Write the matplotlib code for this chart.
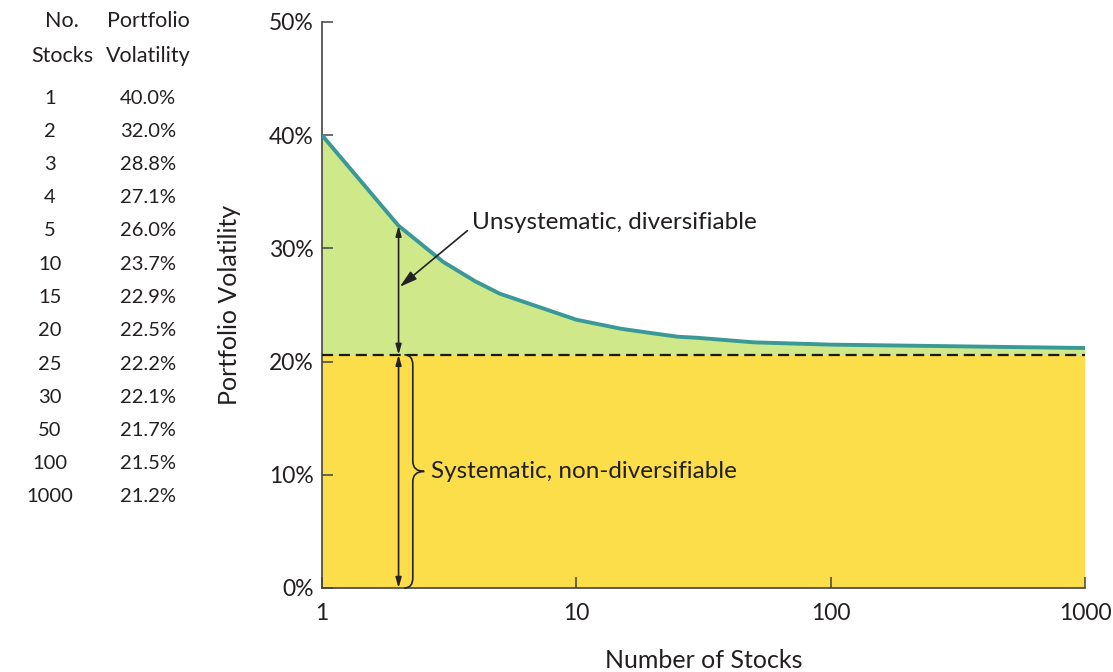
import matplotlib.pyplot as plt
import matplotlib.transforms as mtransforms
from matplotlib.path import Path
from matplotlib.patches import PathPatch
import numpy as np

plt.rcParams['font.family'] = ['Lato', 'DejaVu Sans']
TXT = '#231f20'

# table / curve data
n_stocks = [1, 2, 3, 4, 5, 10, 15, 20, 25, 30, 50, 100, 1000]
volatility = [40.0, 32.0, 28.8, 27.1, 26.0, 23.7, 22.9, 22.5, 22.2, 22.1, 21.7, 21.5, 21.2]
systematic = 20.6  # dashed level
y_ticks = [0, 10, 20, 30, 40, 50]
x_ticks = [1, 10, 100, 1000]

fig = plt.figure(figsize=(11.13, 6.72), dpi=100)
ax = fig.add_axes([322 / 1113, 1 - 588 / 672, 763 / 1113, 566 / 672])

n = np.array(n_stocks, dtype=float)
v = np.array(volatility)

# fills
ax.fill_between(n, 0, systematic, color='#fcdd4a', lw=0, zorder=1)
ax.fill_between(n, systematic, v, color='#cfe98a', lw=0, zorder=1)
ax.plot(n, v, color='#3a9896', lw=2.8, zorder=3, solid_capstyle='butt',
        solid_joinstyle='round')
ax.plot([1, 1000], [systematic, systematic], color='#1a1a1a', lw=1.6,
        ls=(0, (5, 2.6)), zorder=4)

ax.set_xscale('log')
ax.set_xlim(1, 1000)
ax.set_ylim(0, 50)
ax.set_xticks(x_ticks)
ax.set_xticklabels([str(t) for t in x_ticks])
ax.minorticks_off()
ax.set_yticks(y_ticks)
ax.set_yticklabels([f'{t}%' for t in y_ticks])
ax.tick_params(direction='in', length=8, width=1.1, color='#444444',
               labelsize=16.5, labelcolor=TXT, pad=6)
ax.tick_params(axis='x', pad=11)
for s in ['top', 'right']:
    ax.spines[s].set_visible(False)
for s in ['left', 'bottom']:
    ax.spines[s].set_color('#444444')
    ax.spines[s].set_linewidth(1.2)
ax.set_xlabel('Number of Stocks', fontsize=18, color=TXT, labelpad=18)
ax.set_ylabel('Portfolio Volatility', fontsize=18, color=TXT, labelpad=20)

# double arrows at n = 2
arr = dict(arrowstyle='<|-|>,head_length=0.6,head_width=0.17', color='#222222',
           lw=1.2, shrinkA=0, shrinkB=0)
ax.annotate('', xy=(2, volatility[1]), xytext=(2, systematic), arrowprops=arr, zorder=5)
ax.annotate('', xy=(2, systematic), xytext=(2, 0), arrowprops=arr, zorder=5)

ax.annotate('Unsystematic, diversifiable', xy=(2.02, 26.6), xytext=(3.9, 32.3),
            fontsize=17.5, color=TXT, ha='left', va='center',
            arrowprops=dict(arrowstyle='-|>,head_length=0.6,head_width=0.17',
                            color='#222222', lw=1.2, shrinkA=2, shrinkB=0,
                            relpos=(0, 0.3)), zorder=6)

# curly brace for systematic part
tr = mtransforms.blended_transform_factory(ax.transAxes, ax.transData)
x_end, x_stem, x_tip = 0.108, 0.119, 0.134
y0, y1 = 0.0, systematic
ym = (y0 + y1) / 2
r = 0.9
verts = [(x_end, y0), (x_stem, y0), (x_stem, y0 + r),
         (x_stem, ym - r), (x_stem, ym), (x_tip, ym),
         (x_stem, ym), (x_stem, ym + r),
         (x_stem, y1 - r), (x_stem, y1), (x_end, y1)]
codes = [Path.MOVETO, Path.CURVE3, Path.CURVE3,
         Path.LINETO, Path.CURVE3, Path.CURVE3,
         Path.CURVE3, Path.CURVE3,
         Path.LINETO, Path.CURVE3, Path.CURVE3]
ax.add_patch(PathPatch(Path(verts, codes), transform=tr, fill=False,
                       edgecolor='#222222', lw=1.2, zorder=5, clip_on=False))
ax.text(x_tip + 0.009, ym, 'Systematic, non-diversifiable', transform=tr,
        fontsize=17.5, color=TXT, ha='left', va='center', zorder=6)

# table on the left
W, H = 1113, 672
def fx(px):
    return px / W
def fy(py):
    return 1 - py / H

fig.text(fx(62), fy(21), 'No.', fontsize=15.5, color=TXT, ha='center', va='center')
fig.text(fx(62), fy(56), 'Stocks', fontsize=15.5, color=TXT, ha='center', va='center')
fig.text(fx(148), fy(21), 'Portfolio', fontsize=15.5, color=TXT, ha='center', va='center')
fig.text(fx(148), fy(56), 'Volatility', fontsize=15.5, color=TXT, ha='center', va='center')
row_y0, row_dy = 98, 33.25
for i, (k, vol) in enumerate(zip(n_stocks, volatility)):
    y = fy(row_y0 + i * row_dy)
    fig.text(fx(50), y, str(k), fontsize=14.5, color=TXT, ha='center', va='center')
    fig.text(fx(176), y, f'{vol:.1f}%', fontsize=14.5, color=TXT, ha='right', va='center')

fig.savefig('out.png', dpi=100)
